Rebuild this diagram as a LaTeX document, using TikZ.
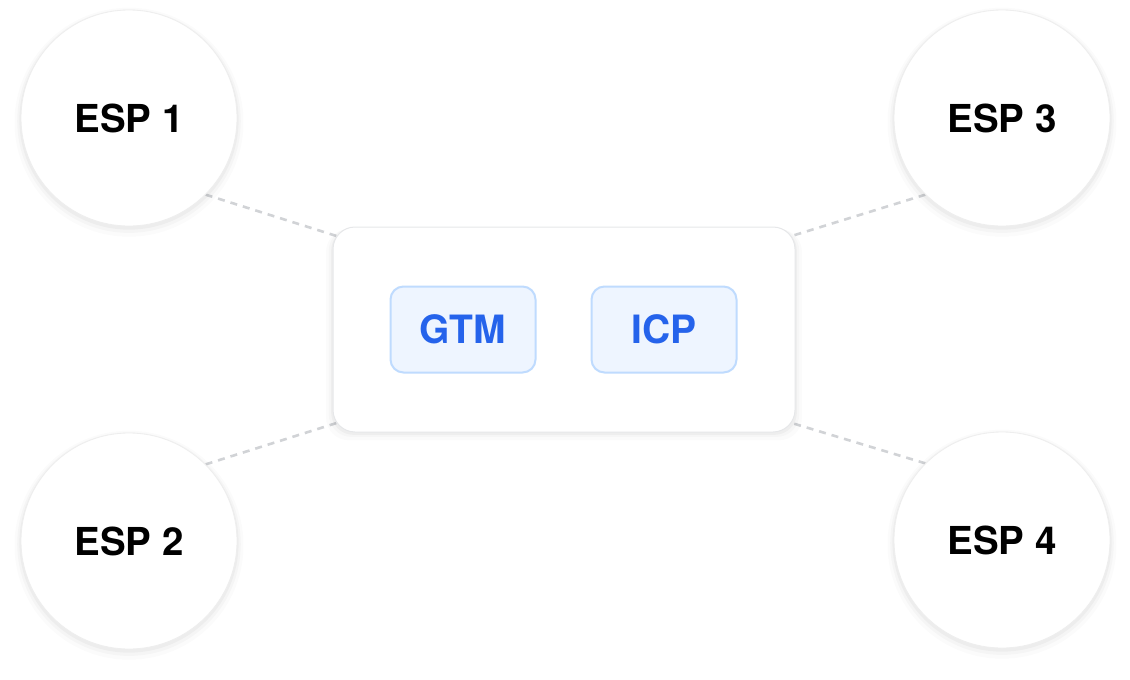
\documentclass[tikz,border=0pt]{standalone}
\usepackage{fontspec}
\setmainfont{TeX Gyre Heros}
\usetikzlibrary{shadows,backgrounds,calc}
\definecolor{espborder}{HTML}{EEEEEE}
\definecolor{boxborder}{HTML}{E6E7E9}
\definecolor{boxfill}{HTML}{FFFFFF}
\definecolor{chipfill}{HTML}{EEF5FF}
\definecolor{chipborder}{HTML}{BFDBFE}
\definecolor{chiptext}{HTML}{2563EB}
\definecolor{dashgray}{HTML}{D1D3D6}
\tikzset{
  esp/.style={circle, minimum size=216pt, inner sep=0pt, fill=white, draw=espborder, line width=0.8pt,
    general shadow={fill=black, opacity=0.015, shadow scale=1.06, shadow yshift=-4pt},
    general shadow={fill=black, opacity=0.022, shadow scale=1.035, shadow yshift=-3pt},
    general shadow={fill=black, opacity=0.03, shadow scale=1.015, shadow yshift=-2pt},
    font=\fontsize{38.5}{42}\selectfont\bfseries, text=black},
  hub/.style={rectangle, rounded corners=22pt, minimum width=462pt, minimum height=205pt, fill=boxfill, draw=boxborder, line width=1pt,
    general shadow={fill=black, opacity=0.015, shadow scale=1.03, shadow yshift=-5pt},
    general shadow={fill=black, opacity=0.02, shadow scale=1.018, shadow yshift=-3pt},
    general shadow={fill=black, opacity=0.03, shadow scale=1.008, shadow yshift=-2pt}},
  chip/.style={rectangle, rounded corners=13pt, minimum width=145pt, minimum height=86pt, fill=chipfill, draw=chipborder, line width=2pt,
    font=\fontsize{39}{42}\selectfont\bfseries, text=chiptext},
  link/.style={draw=dashgray, line width=2.6pt, dash pattern=on 7pt off 6pt}
}
\begin{document}
\begin{tikzpicture}[x=1pt,y=-1pt]
\useasboundingbox (0,0) rectangle (1130,680);
\node[hub] (hub) at (564,329.5) {};
\node[chip] (gtm) at (463,329.5) {GTM};
\node[chip] (icp) at (664,329.5) {ICP};
\node[esp] (e1) at (129,118) {ESP 1};
\node[esp] (e2) at (129,541) {ESP 2};
\node[esp] (e3) at (1002,118) {ESP 3};
\node[esp] (e4) at (1002,540) {ESP 4};
\begin{scope}[on background layer]
\draw[link] (e1.south east) -- ($(hub.north west)+(12,12)$);
\draw[link] (e3.south west) -- ($(hub.north east)+(-12,12)$);
\draw[link] (e2.north east) -- ($(hub.south west)+(12,-12)$);
\draw[link] (e4.north west) -- ($(hub.south east)+(-12,-12)$);
\end{scope}
\end{tikzpicture}
\end{document}
